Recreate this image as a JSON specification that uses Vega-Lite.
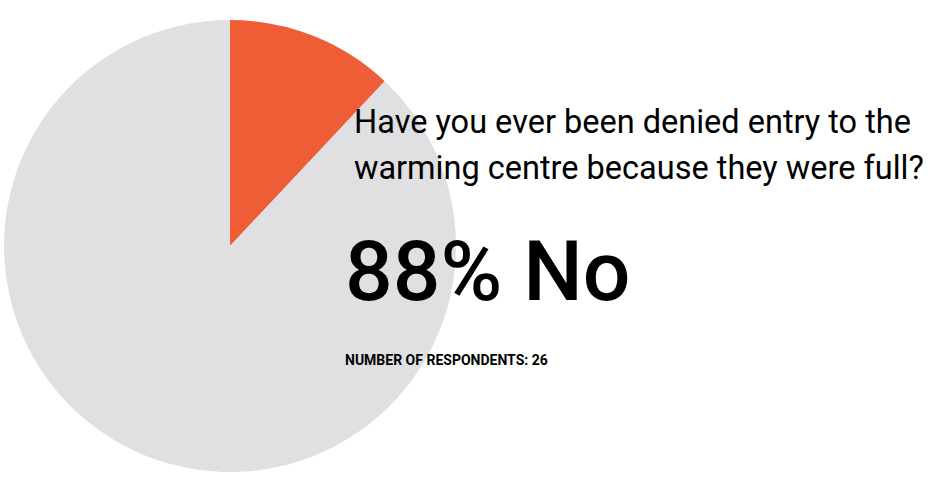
{
  "$schema": "https://vega.github.io/schema/vega-lite/v6.json",
  "width": 940,
  "height": 482,
  "autosize": {"type": "fit", "contains": "padding"},
  "padding": 0,
  "background": "white",
  "config": {"view": {"stroke": null}},
  "datasets": {
    "pie": [
      {"answer": "Yes", "percent": 12, "rank": 1},
      {"answer": "No", "percent": 88, "rank": 2}
    ]
  },
  "layer": [
    {
      "data": {"name": "pie"},
      "mark": {"type": "arc", "x": 230, "y": 246, "outerRadius": 226},
      "encoding": {
        "theta": {"field": "percent", "type": "quantitative", "stack": true},
        "order": {"field": "rank", "type": "quantitative"},
        "color": {
          "field": "answer",
          "type": "nominal",
          "scale": {"domain": ["Yes", "No"], "range": ["#EF5D37", "#E0E0E2"]},
          "legend": null
        }
      }
    },
    {
      "data": {"values": [{"line": "Have you ever been denied entry to the"}]},
      "mark": {"type": "text", "x": 354, "y": 133, "align": "left", "baseline": "alphabetic", "font": "Roboto", "fontSize": 32.5, "color": "#000000", "lineHeight": 46},
      "encoding": {"text": {"value": ["Have you ever been denied entry to the", "warming centre because they were full?"]}}
    },
    {
      "data": {"values": [{"label": "88% No"}]},
      "mark": {"type": "text", "x": 345, "y": 300, "align": "left", "baseline": "alphabetic", "font": "Roboto", "fontSize": 84, "fontWeight": 500, "color": "#000000"},
      "encoding": {"text": {"field": "label"}}
    },
    {
      "data": {"values": [{"label": "NUMBER OF RESPONDENTS: 26"}]},
      "mark": {"type": "text", "x": 345, "y": 365, "align": "left", "baseline": "alphabetic", "font": "Roboto", "fontSize": 14, "fontWeight": "bold", "color": "#000000"},
      "encoding": {"text": {"field": "label"}}
    }
  ]
}
